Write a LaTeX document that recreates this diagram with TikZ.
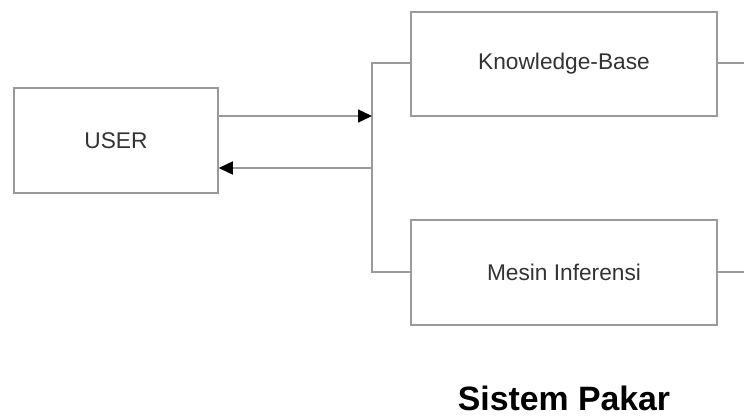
\documentclass[tikz,border=0pt]{standalone}
\usepackage{fontspec}
\setmainfont{Liberation Sans}
\usetikzlibrary{arrows.meta, positioning}
\definecolor{linegray}{HTML}{9A9A9A}
\definecolor{textgray}{HTML}{333333}

\begin{document}
\begin{tikzpicture}[x=1pt, y=-1pt,
        box/.style={draw=linegray, line width=1.5pt, rectangle, inner sep=0pt,
            text=textgray, font=\fontsize{22.7}{27}\selectfont},
        link/.style={draw=linegray, line width=1.5pt},
        arrow/.style={link, -{Triangle[length=14pt, width=13pt, black]}}]
    \useasboundingbox (0,0) rectangle (744,418);
    % Boxes
    \node[box, minimum width=204pt, minimum height=105pt] (user) at (116,140.5) {USER};
    \node[box, minimum width=306pt, minimum height=104pt] (kb) at (564,64) {Knowledge-Base};
    \node[box, minimum width=306pt, minimum height=105pt] (mi) at (564,272.5) {Mesin Inferensi};
    \node[font=\fontsize{33.8}{40}\selectfont\bfseries, inner sep=0pt] (title) at (564,398) {Sistem Pakar};
    % Trunk
    \coordinate (top) at (372,63);
    \coordinate (bot) at (372,272);
    \coordinate (in) at (372,116);
    \coordinate (out) at (372,168);
    \draw[link] (kb.west |- top) -- (top) -- (bot) -- (mi.west |- bot);
    % Arrows to and from the user
    \draw[arrow] (user.east |- in) -- (in);
    \draw[arrow] (out) -- (user.east |- out);
    % Outgoing lines on the right
    \coordinate (kbend) at (744,63);
    \coordinate (miend) at (744,272);
    \draw[link] (kb.east |- kbend) -- (kbend);
    \draw[link] (mi.east |- miend) -- (miend);
\end{tikzpicture}
\end{document}
